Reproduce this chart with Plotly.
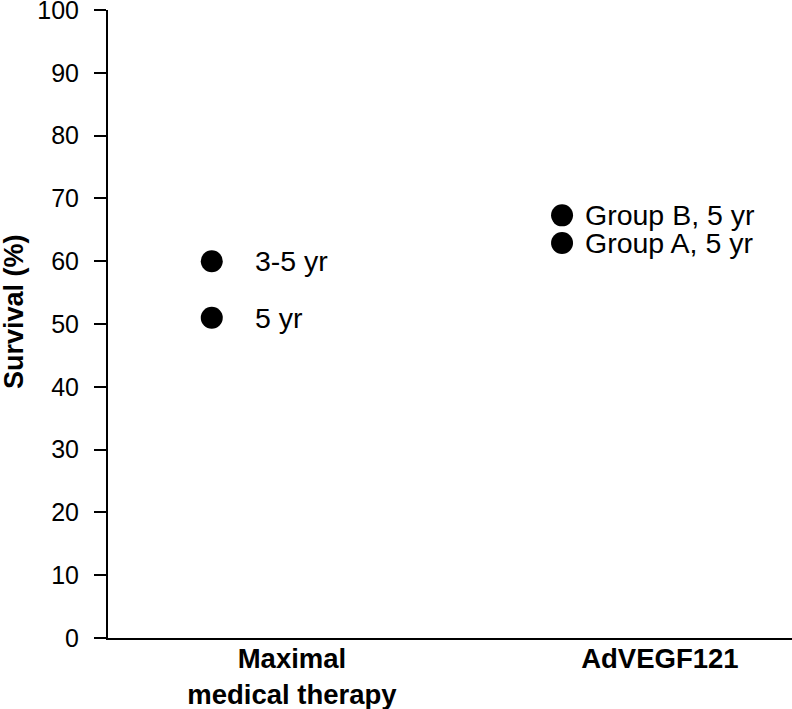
import plotly.graph_objects as go

# ---- data ----
categories = ["Maximal<br>medical therapy", "AdVEGF121"]
point_labels = ["3-5 yr", "5 yr", "Group B, 5 yr", "Group A, 5 yr"]
point_category = [0, 0, 1, 1]
point_offset = [-0.218, -0.218, -0.266, -0.266]   # horizontal placement within category
survival = [60, 51, 67.3, 62.9]
y_ticks = [0, 10, 20, 30, 40, 50, 60, 70, 80, 90, 100]

# ---- style ----
label_shift = [41, 41, 21, 21]
FONT = "Liberation Sans, Arial, sans-serif"

xs = [c + o for c, o in zip(point_category, point_offset)]

fig = go.Figure()
fig.add_trace(go.Scatter(
    x=xs, y=survival, mode="markers",
    marker=dict(size=22, color="black", line=dict(width=0)),
    showlegend=False, hoverinfo="skip",
))

for x, y, t, s in zip(xs, survival, point_labels, label_shift):
    fig.add_annotation(x=x, y=y, text=t, showarrow=False, xanchor="left",
                       yanchor="middle", xshift=s,
                       font=dict(family=FONT, size=28.5, color="black"))

fig.add_annotation(xref="paper", yref="paper", x=(14 - 108) / 684, y=(638 - 312) / 628,
                   text="<b>Survival (%)</b>", textangle=-90, showarrow=False,
                   xanchor="center", yanchor="middle",
                   font=dict(family=FONT, size=27, color="black"))

fig.update_layout(
    width=792, height=709,
    margin=dict(l=108, r=0, t=10, b=71),
    plot_bgcolor="white", paper_bgcolor="white",
    font=dict(family=FONT, color="black"),
    xaxis=dict(
        range=[-0.5, 1.359], tickmode="array", tickvals=[0, 1],
        ticktext=["<b>" + c.replace("<br>", "</b><br><b>") + "</b>" for c in categories],
        showgrid=False, zeroline=False, showline=True, linecolor="black", linewidth=2,
        ticks="", tickfont=dict(family=FONT, size=27.5, color="black"),
        ticklabeloverflow="allow", automargin=False, ticklabelstandoff=-5,
    ),
    yaxis=dict(
        range=[0, 100], tickmode="array", tickvals=y_ticks,
        showgrid=False, zeroline=False, showline=True, linecolor="black", linewidth=2,
        ticks="outside", ticklen=12, tickwidth=2, tickcolor="black",
        ticklabelstandoff=10, ticklabeloverflow="allow", automargin=False,
        tickfont=dict(family=FONT, size=25, color="black"),
    ),
)

fig.write_html("out.html", config={"displayModeBar": False},
               post_script="document.body.style.margin='0px';document.body.style.overflow='hidden';")
